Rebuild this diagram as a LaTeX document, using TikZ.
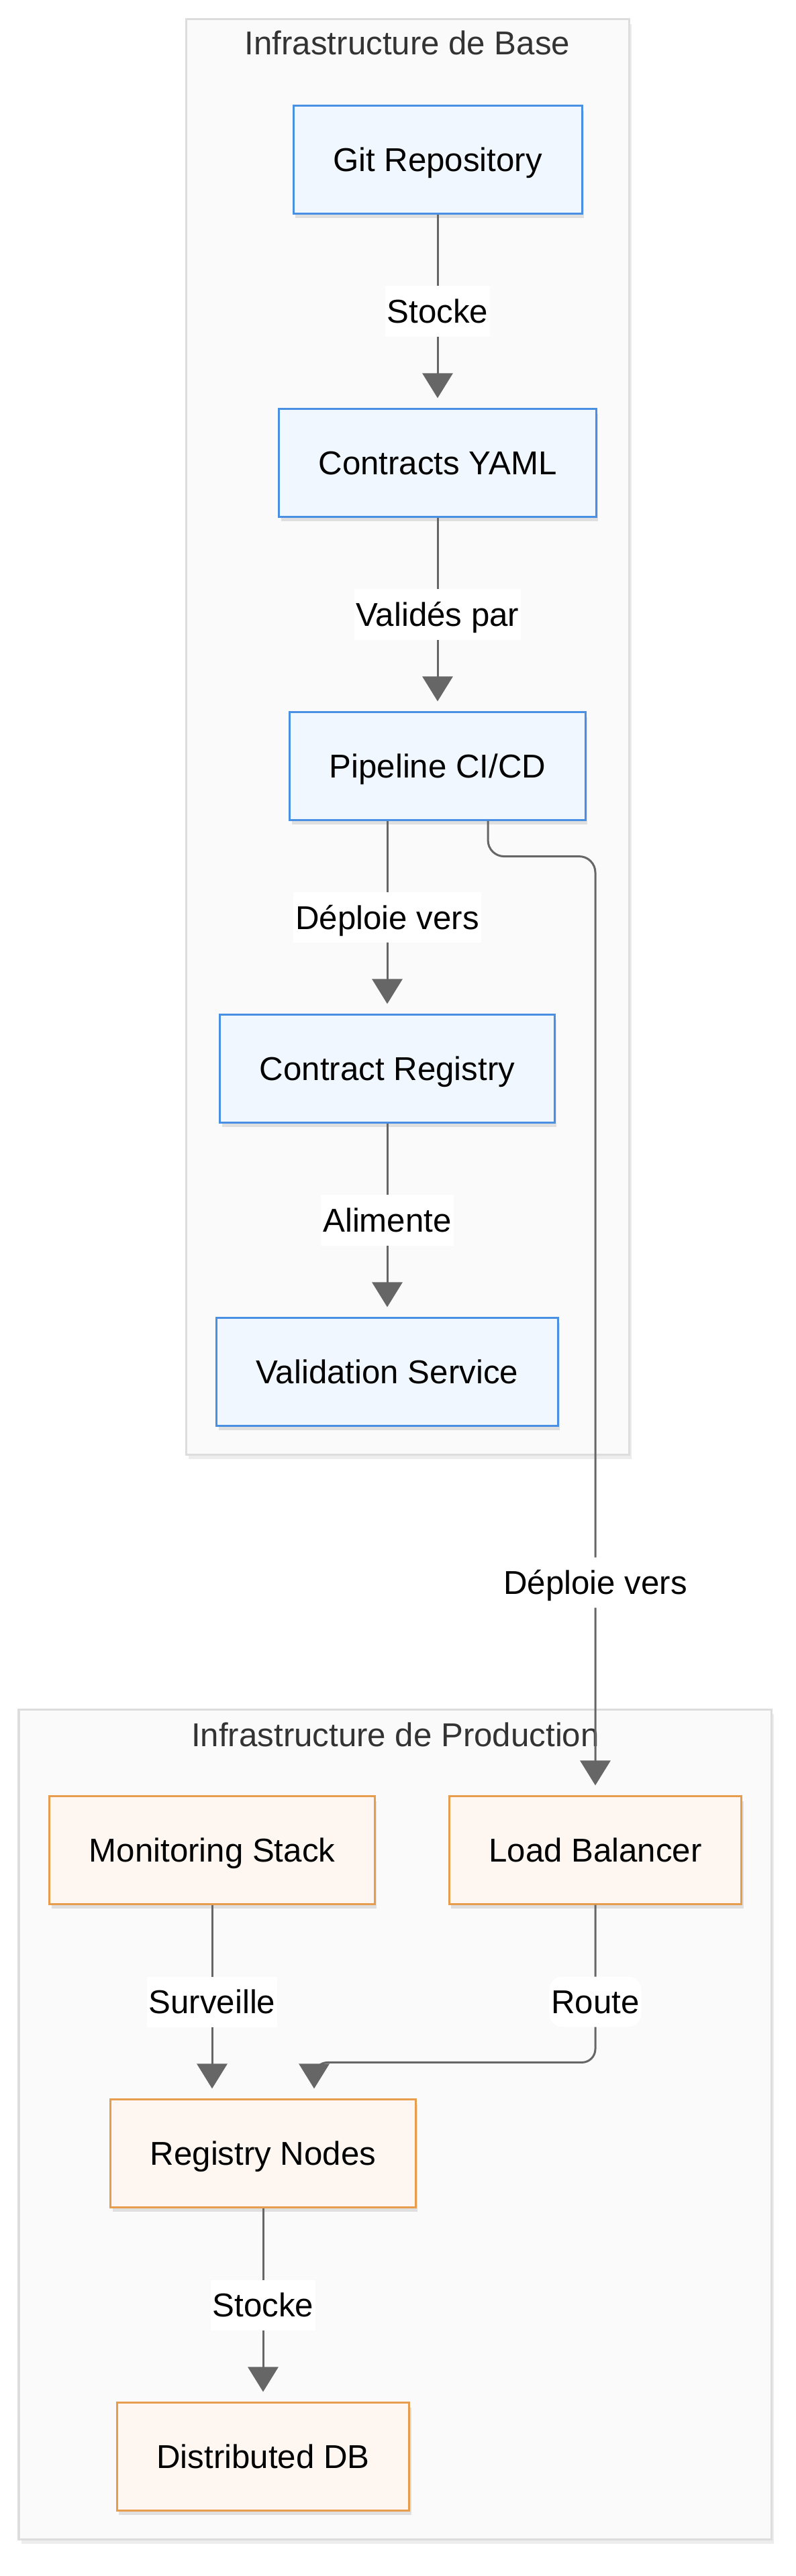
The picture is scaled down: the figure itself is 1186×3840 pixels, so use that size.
\documentclass[tikz,border=0pt]{standalone}
\usepackage{fontspec}
\setmainfont{Liberation Sans}
\usetikzlibrary{arrows.meta,shadows}

\definecolor{basefill}{RGB}{240,247,255}
\definecolor{basedraw}{RGB}{74,144,226}
\definecolor{prodfill}{RGB}{254,247,241}
\definecolor{proddraw}{RGB}{230,158,78}
\definecolor{clusterfill}{RGB}{250,250,250}
\definecolor{clusterdraw}{RGB}{221,221,221}
\definecolor{edgecol}{RGB}{102,102,102}
\definecolor{titlecol}{RGB}{51,51,51}

\begin{document}
\begin{tikzpicture}[x=0.01cm,y=-0.01cm,
  font=\fontsize{14}{16}\selectfont,
  box/.style={draw, line width=0.03cm, rectangle, inner xsep=0.59cm,
    minimum height=1.6cm, text height=0.35cm, text depth=0cm,
    drop shadow={shadow xshift=0.03cm, shadow yshift=-0.07cm, opacity=0.22}},
  basebox/.style={box, draw=basedraw, fill=basefill},
  prodbox/.style={box, draw=proddraw, fill=prodfill},
  cluster/.style={draw=clusterdraw, fill=clusterfill, line width=0.03cm,
    drop shadow={shadow xshift=0.04cm, shadow yshift=-0.07cm, opacity=0.15}},
  flow/.style={draw=edgecol, line width=0.03cm,
    -{Triangle[width=0.45cm,length=0.37cm]}, shorten >=0.15cm},
  lbl/.style={fill=white, inner xsep=0.03cm, minimum height=0.75cm,
    text height=0.35cm, text depth=0cm}]

\useasboundingbox[fill=white] (0,0) rectangle (1186,3840);

% clusters
\path[cluster] (277,29) rectangle (937,2168);
\node[anchor=base, text=titlecol] (basetitle) at (607,82) {Infrastructure de Base};
\path[cluster] (28,2548) rectangle (1149,3785);
\node[anchor=base, text=titlecol] (prodtitle) at (589,2603) {Infrastructure de Production};

% base
\node[basebox] (git)  at (652,238)  {Git Repository};
\node[basebox] (yaml) at (652,690)  {Contracts YAML};
\node[basebox] (pipe) at (652,1142) {Pipeline CI/CD};
\node[basebox] (creg) at (577,1593) {Contract Registry};
\node[basebox] (vals) at (577,2045) {Validation Service};

% production
\node[prodbox] (mon) at (316,2758) {Monitoring Stack};
\node[prodbox] (lb)  at (887,2758) {Load Balancer};
\node[prodbox] (reg) at (392,3210) {Registry Nodes};
\node[prodbox] (db)  at (392,3662) {Distributed DB};

% edges
\draw[flow] (git) -- node[lbl] (l1) {Stocke} (yaml);
\draw[flow] (yaml) -- node[lbl] (l2) {Validés par} (pipe);
\draw[flow] (pipe.south -| creg) -- node[lbl] (l3) {Déploie vers} (creg);
\draw[flow] (creg) -- node[lbl] (l4) {Alimente} (vals);
\draw[flow, rounded corners=0.24cm] ([xshift=0.75cm]pipe.south) -- ++(0,-0.53cm) -| (lb.north)
  node[lbl] (l5) at (887,2359) {Déploie vers};
\draw[flow] (mon.south) -- node[lbl] (l6) {Surveille} (mon.south |- reg.north);
\draw[flow, rounded corners=0.2cm] (lb.south) |- ([xshift=0.76cm,yshift=0.54cm]reg.north)
  -- ([xshift=0.76cm]reg.north) node[lbl] (l7) at (887,2984) {Route};
\draw[flow] (reg) -- node[lbl] (l8) {Stocke} (db);

\end{tikzpicture}
\end{document}
